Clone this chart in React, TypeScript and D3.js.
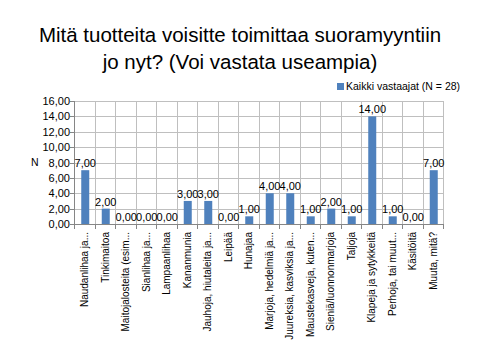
import React, { useEffect, useRef } from 'react'
import * as d3 from 'd3'

// categories (as shown, truncated like the original)
const categories = [
  'Naudanlihaa ja...',
  'Tinkimaitoa',
  'Maitojalosteita (esim...',
  'Sianlihaa ja...',
  'Lampaanlihaa',
  'Kananmunia',
  'Jauhoja, hiutaleita ja...',
  'Leipää',
  'Hunajaa',
  'Marjoja, hedelmiä ja...',
  'Juureksia, kasviksia ja...',
  'Maustekasveja, kuten...',
  'Sieniä/luonnonmarjoja',
  'Taljoja',
  'Klapeja ja sytykkeitä',
  'Perhoja, tai muut...',
  'Käsitöitä',
  'Muuta, mitä?',
]
const values = [7, 2, 0, 0, 0, 3, 3, 0, 1, 4, 4, 1, 2, 1, 14, 1, 0, 7]
const yTicks = [0, 2, 4, 6, 8, 10, 12, 14, 16]
const seriesName = 'Kaikki vastaajat (N = 28)'
const titleLines = ['Mitä tuotteita voisitte toimittaa suoramyyntiin', 'jo nyt? (Voi vastata useampia)']

const W = 480
const H = 360
const font = '"Liberation Sans", Arial, sans-serif'

const App = () => {
  const ref = useRef<SVGSVGElement>(null)

  useEffect(() => {
    const svg = d3.select(ref.current)
    svg.selectAll('*').remove()

    const left = 74, right = 443, top = 101, bottom = 224
    const fmt = (v: number) => v.toFixed(2).replace('.', ',')

    const step = (right - left) / categories.length
    const x0 = (i: number) => left + i * step
    const y = d3.scaleLinear().domain([0, 16]).range([bottom, top])

    svg.append('rect').attr('width', W).attr('height', H).attr('fill', '#fff')

    // title
    svg.append('g').selectAll('text')
      .data(titleLines)
      .join('text')
      .attr('x', 240)
      .attr('y', (_d, i) => 42 + i * 27)
      .attr('text-anchor', 'middle')
      .attr('font-family', font)
      .attr('font-size', 20.5)
      .attr('fill', '#000')
      .text(d => d)

    // legend
    svg.append('rect').attr('x', 337).attr('y', 83).attr('width', 7).attr('height', 7).attr('fill', '#4F81BD')
    svg.append('text').attr('x', 346).attr('y', 90).attr('font-family', font).attr('font-size', 10.5)
      .attr('fill', '#000').text(seriesName)

    // grid
    const grid = svg.append('g').attr('stroke', '#bfbfbf').attr('stroke-width', 1)
    grid.selectAll('line.h')
      .data(yTicks.slice(1))
      .join('line')
      .attr('x1', left).attr('x2', right)
      .attr('y1', d => Math.round(y(d)) + 0.5).attr('y2', d => Math.round(y(d)) + 0.5)
    grid.selectAll('line.v')
      .data(d3.range(1, categories.length + 1))
      .join('line')
      .attr('class', 'v')
      .attr('x1', d => Math.round(x0(d)) + 0.5).attr('x2', d => Math.round(x0(d)) + 0.5)
      .attr('y1', top).attr('y2', bottom + 5)

    // axes
    svg.append('line').attr('x1', left + 0.5).attr('x2', left + 0.5).attr('y1', top).attr('y2', bottom)
      .attr('stroke', '#868686')
    svg.append('line').attr('x1', left).attr('x2', right).attr('y1', bottom + 0.5).attr('y2', bottom + 0.5)
      .attr('stroke', '#868686')
    svg.append('g').selectAll('line')
      .data(d3.range(0, categories.length + 1))
      .join('line')
      .attr('x1', d => Math.round(x0(d)) + 0.5).attr('x2', d => Math.round(x0(d)) + 0.5)
      .attr('y1', bottom).attr('y2', bottom + 5)
      .attr('stroke', '#868686')
    svg.append('g').selectAll('line')
      .data(yTicks)
      .join('line')
      .attr('x1', left - 4).attr('x2', left)
      .attr('y1', d => Math.round(y(d)) + 0.5).attr('y2', d => Math.round(y(d)) + 0.5)
      .attr('stroke', '#868686')

    // y tick labels
    svg.append('g').selectAll('text')
      .data(yTicks)
      .join('text')
      .attr('x', left - 4)
      .attr('y', d => y(d) + 4)
      .attr('text-anchor', 'end')
      .attr('font-family', font)
      .attr('font-size', 11)
      .attr('fill', '#000')
      .text(d => fmt(d))

    svg.append('text').attr('x', 31).attr('y', 166).attr('font-family', font).attr('font-size', 10.5)
      .attr('fill', '#000').text('N')

    // bars
    const bw = 8
    svg.append('g').selectAll('rect')
      .data(values)
      .join('rect')
      .attr('x', (_d, i) => x0(i) + step / 2 - bw / 2 + 1)
      .attr('y', d => y(d))
      .attr('width', bw)
      .attr('height', d => bottom - y(d))
      .attr('fill', '#4F81BD')

    // value labels
    svg.append('g').selectAll('text')
      .data(values)
      .join('text')
      .attr('x', (_d, i) => x0(i) + step / 2 + 1)
      .attr('y', d => y(d) - 3)
      .attr('text-anchor', 'middle')
      .attr('font-family', font)
      .attr('font-size', 11)
      .attr('fill', '#000')
      .text(d => fmt(d))

    // category labels
    svg.append('g').selectAll('text')
      .data(categories)
      .join('text')
      .attr('transform', (_d, i) => `translate(${x0(i) + step / 2 + 4},${bottom + 8}) rotate(-90)`)
      .attr('text-anchor', 'end')
      .attr('font-family', font)
      .attr('font-size', 10)
      .attr('fill', '#000')
      .text(d => d)
  }, [])

  return <svg ref={ref} width={W} height={H} style={{ position: 'absolute', left: 0, top: 0 }} />
}

export default App
